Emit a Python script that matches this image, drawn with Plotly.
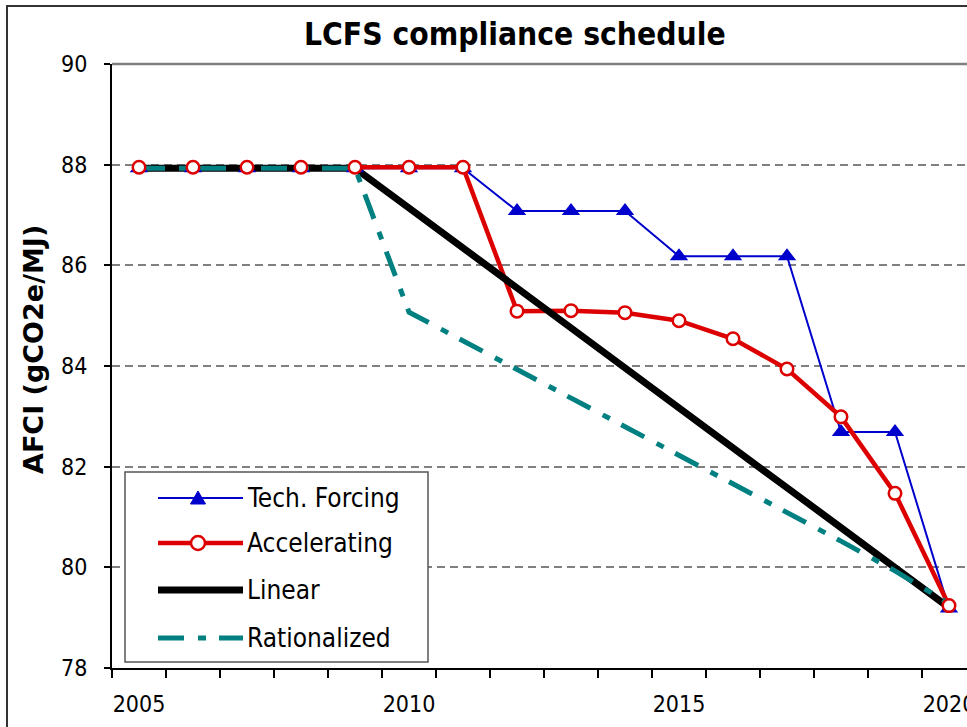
import plotly.graph_objects as go

# ---------------- data ----------------
years = list(range(2005, 2021))
tech_forcing = [87.93, 87.93, 87.93, 87.93, 87.93, 87.93, 87.93,
                87.08, 87.08, 87.08, 86.18, 86.18, 86.18, 82.69, 82.69, 79.18]
accelerating = [87.95, 87.95, 87.95, 87.95, 87.95, 87.95, 87.95,
                85.09, 85.10, 85.06, 84.90, 84.54, 83.94, 82.99, 81.47, 79.24]
linear = [87.93, 87.93, 87.93, 87.93, 87.93, 87.14, 86.34, 85.55,
          84.76, 83.96, 83.17, 82.37, 81.58, 80.79, 79.99, 79.20]
rationalized = [87.93, 87.93, 87.93, 87.93, 87.93, 85.07, 84.50, 83.93,
                83.37, 82.80, 82.24, 81.67, 81.10, 80.52, 79.93, 79.28]
x_tick_years = [2005, 2010, 2015, 2020]
y_ticks = [78, 80, 82, 84, 86, 88, 90]
series_names = ["Tech. Forcing", "Accelerating", "Linear", "Rationalized"]
title_text = "LCFS compliance schedule"
y_title = "AFCI (gCO2e/MJ)"

# ---------------- style ----------------
BLUE = "#0000CC"
RED = "#DD0000"
BLACK = "#000000"
TEAL = "#008080"
TEAL_DASH = "26px,14px,8px,13px"
FONT = "DejaVu Sans Condensed, DejaVu Sans, sans-serif"

W, H = 967, 727
L, T, B = 112, 64, 668
PW = W - L
PH = B - T
PX_PER_YEAR = 54.0


def px_x(p):
    return (p - L) / PW


def px_y(p):
    return (B - p) / PH


fig = go.Figure()

# lines first (Excel draws all lines, then markers)
fig.add_trace(go.Scatter(x=years, y=tech_forcing, mode="lines",
                         line=dict(color=BLUE, width=2), hoverinfo="skip", showlegend=False))
fig.add_trace(go.Scatter(x=years, y=accelerating, mode="lines",
                         line=dict(color=RED, width=4.5), hoverinfo="skip", showlegend=False))
fig.add_trace(go.Scatter(x=years, y=linear, mode="lines",
                         line=dict(color=BLACK, width=7), name="Linear", showlegend=False))
fig.add_trace(go.Scatter(x=years, y=rationalized, mode="lines",
                         line=dict(color=TEAL, width=5, dash=TEAL_DASH),
                         name="Rationalized", showlegend=False))
fig.add_trace(go.Scatter(x=years, y=tech_forcing, mode="markers", name="Tech. Forcing",
                         marker=dict(symbol="triangle-up", size=16, color=BLUE),
                         showlegend=False))
fig.add_trace(go.Scatter(x=years, y=accelerating, mode="markers", name="Accelerating",
                         marker=dict(symbol="circle", size=12.5, color="white",
                                     line=dict(color=RED, width=2.5)),
                         showlegend=False))

shapes = []
annotations = []

# outer chart border (cut off at right/bottom)
shapes.append(dict(type="rect", xref="paper", yref="paper",
                   x0=px_x(7), x1=px_x(W + 60), y0=px_y(H + 60), y1=px_y(6),
                   line=dict(color="#333333", width=2), fillcolor="rgba(0,0,0,0)",
                   layer="above"))
# plot-area top border
shapes.append(dict(type="line", xref="paper", yref="paper",
                   x0=0, x1=1, y0=1, y1=1,
                   line=dict(color="#808080", width=2.5), layer="above"))

# custom legend
LEG_X0, LEG_X1, LEG_Y0, LEG_Y1 = 125, 428, 472, 662
shapes.append(dict(type="rect", xref="paper", yref="paper",
                   x0=px_x(LEG_X0), x1=px_x(LEG_X1), y0=px_y(LEG_Y1), y1=px_y(LEG_Y0),
                   line=dict(color="#555555", width=1.5), fillcolor="white", layer="above"))
row_y = [498, 543, 590, 638]
leg_lines = [(BLUE, 2, "solid"), (RED, 4.5, "solid"), (BLACK, 7, "solid"), (TEAL, 5, TEAL_DASH)]
for name, ry, (col, wid, dsh) in zip(series_names, row_y, leg_lines):
    shapes.append(dict(type="line", xref="paper", yref="paper",
                       x0=px_x(158), x1=px_x(243), y0=px_y(ry), y1=px_y(ry),
                       line=dict(color=col, width=wid, dash=dsh), layer="above"))
    annotations.append(dict(text=name, xref="paper", yref="paper",
                            x=px_x(245), y=px_y(ry), xanchor="left", yanchor="middle",
                            showarrow=False, font=dict(family=FONT, size=26, color="black")))
# legend markers
cx, cy = 198, row_y[0]
tri = [(cx - 7.5, cy + 6), (cx + 7.5, cy + 6), (cx, cy - 7)]
path = "M " + " L ".join(f"{px_x(a):.5f},{px_y(b):.5f}" for a, b in tri) + " Z"
shapes.append(dict(type="path", xref="paper", yref="paper", path=path,
                   fillcolor=BLUE, line=dict(color=BLUE, width=1), layer="above"))
cy = row_y[1]
shapes.append(dict(type="circle", xref="paper", yref="paper",
                   x0=px_x(cx - 7), x1=px_x(cx + 7), y0=px_y(cy + 7), y1=px_y(cy - 7),
                   fillcolor="white", line=dict(color=RED, width=2.5), layer="above"))

# title
annotations.append(dict(text=f"<b>{title_text}</b>", xref="paper", yref="paper",
                        x=px_x(515), y=px_y(34), xanchor="center", yanchor="middle",
                        showarrow=False, font=dict(family=FONT, size=31.5, color="black")))
# y-axis title
annotations.append(dict(text=f"<b>{y_title}</b>", xref="paper", yref="paper",
                        x=px_x(33), y=px_y(350), xanchor="center", yanchor="middle",
                        textangle=-90, showarrow=False,
                        font=dict(family="DejaVu Sans, sans-serif", size=27, color="black")))

fig.update_layout(
    width=W, height=H,
    margin=dict(l=L, r=0, t=T, b=H - B, pad=0, autoexpand=False),
    paper_bgcolor="white", plot_bgcolor="white",
    showlegend=False,
    shapes=shapes, annotations=annotations,
    font=dict(family=FONT, color="black"),
    xaxis=dict(
        range=[years[0] - 0.5, years[0] - 0.5 + PW / PX_PER_YEAR],
        tickmode="array", tickvals=x_tick_years, ticktext=[str(v) for v in x_tick_years],
        ticks="", showgrid=False, zeroline=False, automargin=False,
        showline=True, linecolor="black", linewidth=2,
        tickfont=dict(family=FONT, size=23, color="black"),
        ticklabelstandoff=14, ticklabeloverflow="allow",
        minor=dict(tickmode="linear", tick0=years[0] - 0.5, dtick=1,
                   ticks="outside", ticklen=8, tickwidth=1.5, tickcolor="black",
                   showgrid=False),
    ),
    yaxis=dict(
        range=[y_ticks[0], y_ticks[-1]],
        tickmode="array", tickvals=y_ticks, automargin=False,
        ticks="outside", ticklen=6, tickwidth=1.5, tickcolor="black",
        showline=True, linecolor="black", linewidth=2,
        showgrid=True, gridcolor="#808080", gridwidth=1.5, griddash="8px,5px",
        zeroline=False,
        tickfont=dict(family=FONT, size=23, color="black"),
        ticklabelstandoff=12,
    ),
)

fig.write_html("out.html", config={"displayModeBar": False},
               post_script="document.body.style.margin='0';document.body.style.overflow='hidden';")
